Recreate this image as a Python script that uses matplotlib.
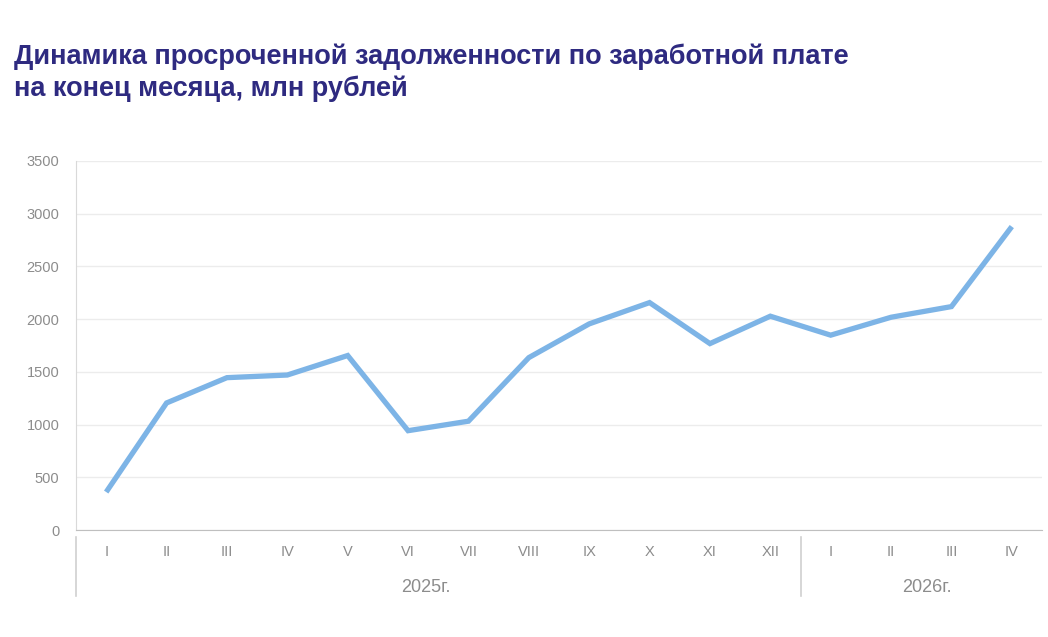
import numpy as np
import matplotlib
matplotlib.use('Agg')
import matplotlib.pyplot as plt

plt.rcParams['font.family'] = ['Liberation Sans', 'DejaVu Sans']

# данные (млн рублей на конец месяца)
months = ['I', 'II', 'III', 'IV', 'V', 'VI', 'VII', 'VIII', 'IX', 'X', 'XI', 'XII',
          'I', 'II', 'III', 'IV']
values = [360, 1205, 1445, 1470, 1655, 942, 1032, 1635, 1955, 2157, 1768, 2028,
          1848, 2018, 2119, 2878]
years = ['2025г.', '2026г.']
year_sizes = [12, 4]

title = 'Динамика просроченной задолженности по заработной плате\nна конец месяца, млн рублей'

fig = plt.figure(figsize=(10.48, 6.37), dpi=100)
ax = fig.add_axes([76 / 1048, 1 - 530 / 637, (1042 - 76) / 1048, (530 - 161) / 637])

x = np.arange(len(values))
ax.plot(x, values, color='#7db4e6', lw=3.8, solid_joinstyle='miter', solid_capstyle='butt')

ax.set_xlim(-0.5, len(values) - 0.5)
ax.set_ylim(0, 3500)
ax.set_yticks(np.arange(0, 3501, 500))
ax.yaxis.grid(True, color='#ececec', lw=1)
ax.set_axisbelow(True)
for s in ['top', 'right']:
    ax.spines[s].set_visible(False)
ax.spines['left'].set_color('#d9d9d9')
ax.spines['bottom'].set_color('#bfbfbf')
ax.tick_params(axis='y', length=0, pad=12, labelsize=10.5, labelcolor='#8c8c8c')
ax.tick_params(axis='x', length=0, pad=11, labelsize=10.5, labelcolor='#8c8c8c')
ax.set_xticks(x)
ax.set_xticklabels(months)

# группировка по годам
trans = ax.get_xaxis_transform()
start = 0
bounds = [-0.5]
for yr, n in zip(years, year_sizes):
    bounds.append(start + n - 0.5)
    start += n
for b in bounds[:-1]:
    ax.plot([b, b], [-0.02, -0.18], transform=trans, color='#d0d0d0', lw=1.2, clip_on=False)
year_pos = [5.3, 13.6]
for yr, p in zip(years, year_pos):
    ax.text(p, -0.155, yr, transform=trans, ha='center', va='center',
            fontsize=13, color='#8c8c8c')

fig.text(14 / 1048, 1 - 43 / 637, title, ha='left', va='top', fontsize=19.5,
         fontweight='bold', color='#2e2a80', linespacing=1.28)

fig.savefig('out.png', dpi=100, facecolor='white')
